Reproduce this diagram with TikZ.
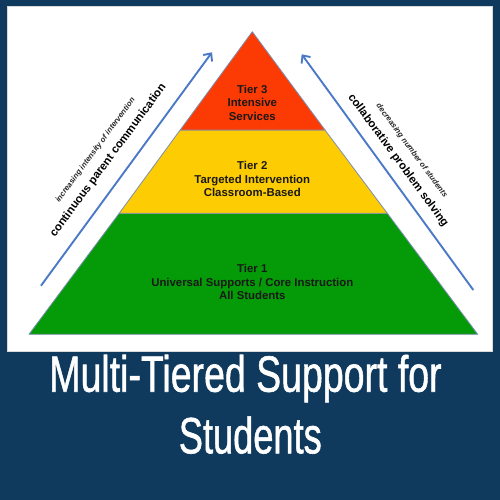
\documentclass[tikz,border=0pt]{standalone}
\usepackage{fontspec}
\setmainfont{Liberation Sans}
\newfontfamily\titlefont[FakeBold=1.2]{Liberation Sans}
\usetikzlibrary{arrows.meta}
\definecolor{bgblue}{HTML}{0F3A5D}
\definecolor{tierred}{HTML}{FC3A03}
\definecolor{tieryellow}{HTML}{FECC02}
\definecolor{tiergreen}{HTML}{059A07}
\definecolor{arrowblue}{HTML}{4A7AC6}
\definecolor{edgegray}{HTML}{7C8FB2}
\tikzset{
  tierlayer/.style={draw=edgegray, line width=0.8pt, line join=round},
  tiertext/.style={align=center, text=black!90, font=\fontsize{11.4}{13.6}\selectfont\bfseries, inner sep=0pt},
  sidearrow/.style={draw=arrowblue, line width=1.9pt, -{Straight Barb[length=6pt,width=11pt,line width=1.9pt]}},
  bigside/.style={font=\fontsize{11.4}{13}\selectfont\bfseries, text=black, inner sep=0pt},
  smallside/.style={font=\fontsize{7.7}{9}\selectfont\bfseries\itshape, text=black!85, inner sep=0pt},
  titletext/.style={text=white, font=\titlefont\fontsize{51}{55}\selectfont, inner sep=0pt, anchor=base}
}
\begin{document}
\begin{tikzpicture}[x=1pt, y=-1pt]
\useasboundingbox (0,0) rectangle (500,500);
\fill[bgblue] (0,0) rectangle (500,500);
\filldraw[fill=white, draw=gray!30, line width=0.6pt] (7.3,6.7) rectangle (492.7,351.7);
% pyramid
\coordinate (apex) at (252.3,31.7);
\coordinate (bl) at (29,334.3);
\coordinate (br) at (477.7,334.3);
\coordinate (rl) at (180.2,130);
\coordinate (rr) at (325,130);
\coordinate (yl) at (119.2,213.3);
\coordinate (yr) at (387.3,213.3);
\path[tierlayer, fill=tiergreen] (yl) -- (yr) -- (br) -- (bl) -- cycle;
\path[tierlayer, fill=tieryellow] (rl) -- (rr) -- (yr) -- (yl) -- cycle;
\path[tierlayer, fill=tierred] (apex) -- (rr) -- (rl) -- cycle;
\node[tiertext] (t3) at (252.3,102.7) {Tier 3\\Intensive\\Services};
\node[tiertext] (t2) at (252.3,179) {Tier 2\\Targeted Intervention\\Classroom-Based};
\node[tiertext] (t1) at (252.3,282.3) {Tier 1\\Universal Supports / Core Instruction\\All Students};
% arrows
\coordinate (la0) at (41,285.7);
\coordinate (la1) at (212,52.3);
\coordinate (ra0) at (473.3,290);
\coordinate (ra1) at (301.7,54.3);
\draw[sidearrow] (la0) -- (la1);
\draw[sidearrow] (ra0) -- (ra1);
% side texts
\node[bigside, rotate=53.5] (lbig) at (108.3,160.5) {continuous parent communication};
\node[smallside, rotate=53.5] (lsmall) at (95.5,150.3) {increasing intensity of intervention};
\node[bigside, rotate=-53.7] (rbig) at (398,160.5) {collaborative problem solving};
\node[smallside, rotate=-53.7] (rsmall) at (411.7,150.8) {decreasing number of students};
% title
\node[titletext] (title1) at (245.5,391.7) {\scalebox{0.735}[1]{Multi-Tiered Support for}};
\node[titletext] (title2) at (250.3,453.3) {\scalebox{0.71}[1]{Students}};
\end{tikzpicture}
\end{document}
